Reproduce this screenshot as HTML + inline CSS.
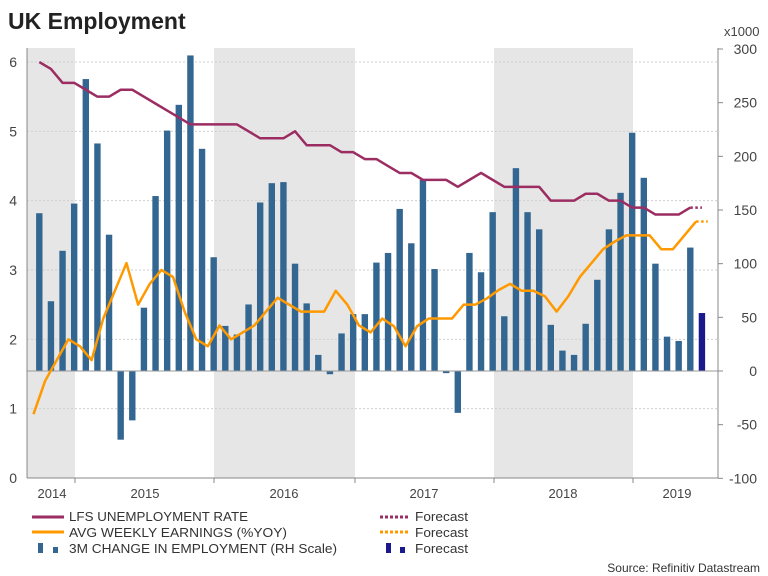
<!DOCTYPE html>
<html><head><meta charset="utf-8">
<style>
body{margin:0;background:#fff;}
svg{display:block;font-family:"Liberation Sans",sans-serif;}
</style></head>
<body>
<svg id="chart" width="768" height="576" viewBox="0 0 768 576">
<text x="8" y="29" font-size="23" font-weight="bold" fill="#222">UK Employment</text>
<g id="bands"></g>
<g id="grid"></g>
<g id="bars"></g>
<g id="lines"></g>
<g id="axes"></g>
<g font-size="13" fill="#333">
  <line x1="32" y1="517" x2="64" y2="517" stroke="#9b2d62" stroke-width="3"/>
  <text x="69" y="521" textLength="179" lengthAdjust="spacingAndGlyphs">LFS UNEMPLOYMENT RATE</text>
  <line x1="32" y1="532" x2="64" y2="532" stroke="#ff9900" stroke-width="3"/>
  <text x="69" y="537" textLength="218" lengthAdjust="spacingAndGlyphs">AVG WEEKLY EARNINGS (%YOY)</text>
  <rect x="38" y="543" width="5" height="10" fill="#336791"/>
  <rect x="53" y="547" width="5" height="6" fill="#336791"/>
  <text x="69" y="553" textLength="268" lengthAdjust="spacingAndGlyphs">3M CHANGE IN EMPLOYMENT (RH Scale)</text>
  <line x1="380" y1="517" x2="408" y2="517" stroke="#9b2d62" stroke-width="3" stroke-dasharray="3,2"/>
  <text x="415" y="521" textLength="53" lengthAdjust="spacingAndGlyphs">Forecast</text>
  <line x1="380" y1="532" x2="408" y2="532" stroke="#ff9900" stroke-width="3" stroke-dasharray="3,2"/>
  <text x="415" y="537" textLength="53" lengthAdjust="spacingAndGlyphs">Forecast</text>
  <rect x="386" y="543" width="5" height="10" fill="#1a1a8c"/>
  <rect x="400" y="547" width="5" height="6" fill="#1a1a8c"/>
  <text x="415" y="553" textLength="53" lengthAdjust="spacingAndGlyphs">Forecast</text>
</g>
<text x="760" y="572" font-size="12" fill="#333" text-anchor="end">Source: Refinitiv Datastream</text>
</svg>
<script>
const employment=[147,65,112,156,272,212,127,-64,-46,59,163,224,248,294,207,106,42,34,62,157,175,176,100,63,15,-3,35,53,53,101,110,151,119,178,95,-2,-39,110,92,148,51,189,148,132,43,19,15,44,85,132,166,222,180,100,32,28,115,54];
const unemployment=[6.0,5.9,5.7,5.7,5.6,5.5,5.5,5.6,5.6,5.5,5.4,5.3,5.2,5.1,5.1,5.1,5.1,5.1,5.0,4.9,4.9,4.9,5.0,4.8,4.8,4.8,4.7,4.7,4.6,4.6,4.5,4.4,4.4,4.3,4.3,4.3,4.2,4.3,4.4,4.3,4.2,4.2,4.2,4.2,4.0,4.0,4.0,4.1,4.1,4.0,4.0,3.9,3.9,3.8,3.8,3.8,3.9,3.9];
const earnings=[0.92,1.4,1.7,2.0,1.9,1.7,2.3,2.7,3.1,2.5,2.8,3.0,2.9,2.4,2.0,1.9,2.2,2.0,2.1,2.2,2.4,2.6,2.5,2.4,2.4,2.4,2.7,2.5,2.2,2.1,2.3,2.19,1.9,2.19,2.3,2.3,2.3,2.5,2.5,2.59,2.71,2.8,2.7,2.7,2.62,2.4,2.62,2.9,3.1,3.3,3.41,3.5,3.5,3.5,3.3,3.3,3.5,3.7,3.7];
const leftTicks=[0,1,2,3,4,5,6];
const rightTicks=[-100,-50,0,50,100,150,200,250,300];
const years=["2014","2015","2016","2017","2018","2019"];
const unempForecastFrom=56, earnForecastFrom=57, empForecastFrom=57;

const NS="http://www.w3.org/2000/svg";
const X0=39.3, MW=11.625;
const xm=i=>X0+MW*i;
const yL=v=>478-69.33*v;
const yR=v=>371-1.0733*v;
function mk(tag,attrs,parent){const e=document.createElementNS(NS,tag);for(const k in attrs)e.setAttribute(k,attrs[k]);parent.appendChild(e);return e;}
const bands=document.getElementById('bands'),grid=document.getElementById('grid'),bars=document.getElementById('bars'),lines=document.getElementById('lines'),axes=document.getElementById('axes');

[[27,75],[214,355],[494,633]].forEach(b=>{const r=mk('rect',{x:b[0],y:48,width:b[1]-b[0],height:430,fill:'#e6e6e6'},bands);

});

leftTicks.forEach(t=>{
  if(t>0){const g=mk('line',{x1:27,x2:718,y1:yL(t),y2:yL(t),stroke:'#cfcfcf','stroke-dasharray':'2,2'},grid);
  
  }
  const tx=mk('text',{x:17,y:yL(t)+5,'font-size':14,fill:'#444','text-anchor':'end'},axes);tx.textContent=t;
  
  
});
rightTicks.forEach(t=>{
  mk('line',{x1:718,x2:723,y1:yR(t),y2:yR(t),stroke:'#888'},axes);
  const tx=mk('text',{x:757,y:yR(t)+5,'font-size':14,fill:'#444','text-anchor':'end'},axes);tx.textContent=t;
  
  
});
const xu=mk('text',{x:724,y:36,'font-size':13,fill:'#444'},axes);xu.textContent='x1000';



employment.forEach((v,i)=>{
  const y1=yR(Math.max(v,0)),y2=yR(Math.min(v,0));
  const r=mk('rect',{x:xm(i)-3.2,y:y1,width:6.4,height:Math.max(y2-y1,1),fill:i>=empForecastFrom?'#1a1a8c':'#336791'},bars);
  
  
});
mk('line',{x1:27,x2:718,y1:yR(0),y2:yR(0),stroke:'#999','stroke-width':1},bars);

function series(vals,off,from,color,name){
  const pts=vals.map((v,i)=>[xm(i+off),yL(v)]);
  const solid=pts.slice(0,from+1).map(p=>p.join(',')).join(' ');
  const dot=pts.slice(from).map(p=>p.join(',')).join(' ');
  const a=mk('polyline',{points:solid,fill:'none',stroke:color,'stroke-width':2.5,'stroke-linejoin':'round'},lines);
  
  
  const b=mk('polyline',{points:dot,fill:'none',stroke:color,'stroke-width':2.5,'stroke-dasharray':'2.5,2.5'},lines);
  
  
}
series(unemployment,0,unempForecastFrom,'#9b2d62','unemployment');
series(earnings,-0.5,earnForecastFrom,'#ff9900','earnings');

mk('line',{x1:27,x2:27,y1:48,y2:478,stroke:'#888'},axes);
mk('line',{x1:718,x2:718,y1:48,y2:478,stroke:'#888'},axes);
mk('line',{x1:27,x2:718,y1:478,y2:478,stroke:'#888'},axes);
[75,214,355,494,633].forEach(x=>mk('line',{x1:x,x2:x,y1:478,y2:483,stroke:'#888'},axes));
const yx=[52,145,284,424,563,677];
years.forEach((y,i)=>{const t=mk('text',{x:yx[i],y:498,'font-size':13,fill:'#444','text-anchor':'middle'},axes);t.textContent=y;

});
</script>
</body></html>
